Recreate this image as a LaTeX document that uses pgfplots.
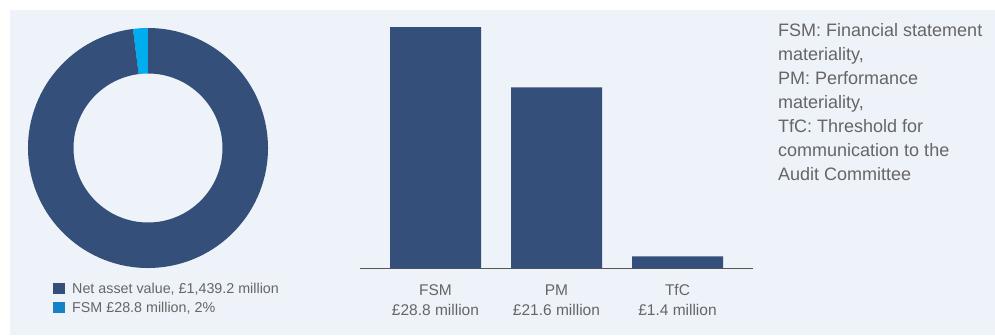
\documentclass[border=0pt]{standalone}
\usepackage{fontspec}
\setmainfont{Liberation Sans}
\usepackage{pgfplots}
\pgfplotsset{compat=1.18}
\definecolor{panel}{HTML}{EEF2F9}
\definecolor{navy}{HTML}{34507A}
\definecolor{sky}{HTML}{00AEEF}
\definecolor{skyleg}{HTML}{1482C4}
\definecolor{txt}{HTML}{666666}
\definecolor{axisgrey}{HTML}{555555}
\begin{document}
\begin{tikzpicture}[x=1pt,y=1pt]
\fill[white] (0,0) rectangle (995,335);
\fill[panel] (10,0) rectangle (995,325);
% ---- donut ----
\def\navval{1439.2}
\def\fsmval{28.8}
\pgfmathsetmacro{\aend}{90+360*\fsmval/\navval}
\begin{axis}[
  at={(18pt,57pt)}, anchor=south west,
  scale only axis, x=1pt, y=1pt,
  xmin=-130, xmax=130, ymin=-130, ymax=130,
  hide axis, clip=false]
\begin{scope}[shift={(axis cs:0,0)}]
\fill[sky] (90:120pt) arc[start angle=90, end angle=\aend, radius=120pt]
  -- (\aend:74.5pt) arc[start angle=\aend, end angle=90, radius=74.5pt] -- cycle;
\fill[navy] (\aend:120pt) arc[start angle=\aend, end angle=450, radius=120pt]
  -- (450:74.5pt) arc[start angle=450, end angle=\aend, radius=74.5pt] -- cycle;
\end{scope}
\end{axis}
% legend
\fill[navy] (53,41) rectangle (65,52);
\fill[skyleg] (53,22) rectangle (65,33);
\node[anchor=base west, font=\fontsize{14.3}{16}\selectfont, text=txt, inner sep=0] at (72,42) {Net asset value, £1,439.2 million};
\node[anchor=base west, font=\fontsize{14.3}{16}\selectfont, text=txt, inner sep=0] at (72,22.5) {FSM £28.8 million, 2\%};
% ---- bars ----
\begin{axis}[
  at={(360pt,67pt)}, anchor=south west,
  scale only axis, width=393pt, height=259.4pt,
  xmin=-0.624, xmax=2.624, ymin=0, ymax=31,
  axis x line*=bottom, axis y line=none,
  x axis line style={draw=axisgrey, line width=0.8pt, -},
  xtick={0,1,2},
  xticklabels={{FSM\\£28.8 million},{PM\\£21.6 million},{TfC\\£1.4 million}},
  xticklabel style={align=center, font=\fontsize{15.5}{20}\selectfont, text=txt, inner sep=0pt, yshift=-16.5pt},
  major tick length=0pt,
  ytick=\empty,
  ybar, bar width=91pt]
\addplot[fill=navy, draw=none] coordinates {(0,28.8) (1,21.6) (2,1.4)};
\end{axis}
% ---- note ----
\node[anchor=north west, align=left, font=\fontsize{18}{24}\selectfont, text=txt, inner sep=0] at (778,312)
 {FSM: Financial statement\\materiality,\\PM: Performance\\materiality,\\TfC: Threshold for\\communication to the\\Audit Committee};
\end{tikzpicture}
\end{document}
